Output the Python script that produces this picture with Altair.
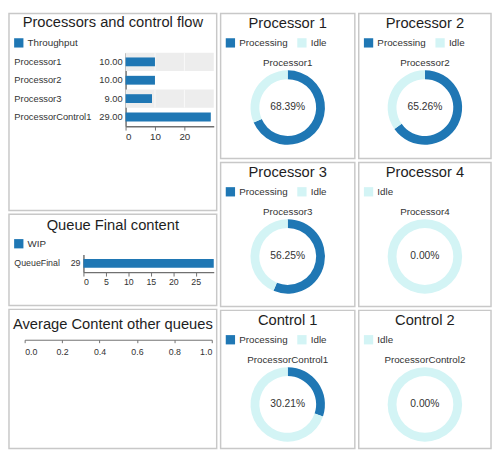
import altair as alt
import pandas as pd

# ---------------- data ----------------
throughput_names = ["Processor1", "Processor2", "Processor3", "ProcessorControl1"]
throughput_values = [10.0, 10.0, 9.0, 29.0]
throughput_series = "Throughput"

queue_names = ["QueueFinal"]
queue_values = [29]
queue_series = "WIP"

other_queue_names = []
other_queue_values = []

panel_titles = ["Processor 1", "Processor 2", "Processor 3", "Processor 4", "Control 1", "Control 2"]
panel_names = ["Processor1", "Processor2", "Processor3", "Processor4",
               "ProcessorControl1", "ProcessorControl2"]
processing_pct = [68.39, 65.26, 56.25, 0.00, 30.21, 0.00]
states = ["Processing", "Idle"]

# ---------------- style ----------------
FONT = "Liberation Sans"
BLUE = "#1f77b4"
IDLE = "#d3f4f5"
TEXT = "#333333"
AXIS = "#707070"
STRIPE = "#ededed"
BORDER = "#c8c8c8"
state_colors = [BLUE, IDLE]


def title(text, off):
    return alt.TitleParams(text=text, fontSize=15, font=FONT, fontWeight="normal",
                           color="#1e1e1e", anchor="middle", offset=off, baseline="top")


def legend(y):
    return alt.Legend(orient="none", legendX=5, legendY=y, title=None, direction="horizontal",
                      symbolType="square", symbolSize=90, symbolStrokeWidth=0,
                      labelFontSize=10, labelColor=TEXT, labelFont=FONT,
                      columnPadding=9, labelOffset=4)


# ---------- panel 1: throughput bars ----------
W_L = 212
H1 = 201
x0_1, x1_1 = 119, 209
y0_1, y1_1 = 40, 115
df1 = pd.DataFrame({"name": throughput_names, "value": throughput_values})
df1["series"] = throughput_series
stripe_rows = df1.iloc[::2]
grid_rows = pd.DataFrame([{"name": n, "tick": t} for n in stripe_rows["name"] for t in [10, 20]])

xs1 = alt.Scale(domain=[0, 30], range=[x0_1, x1_1], nice=False, zero=True)
ys1 = alt.Scale(domain=throughput_names, range=[y0_1, y1_1], paddingInner=0, paddingOuter=0)
xa1 = alt.Axis(title=None, orient="bottom", offset=-(H1 - y1_1), values=[0, 10, 20], grid=False,
               tickSize=4, tickColor=AXIS, domainColor=AXIS, domainWidth=1.5,
               labelFontSize=10, labelColor=TEXT, labelPadding=2)
ya1 = alt.Axis(title=None, orient="left", offset=-x0_1, ticks=False, tickSize=0, grid=False,
               domainColor=AXIS, domainWidth=1.5, labelAlign="left", labelPadding=x0_1 - 5,
               labelFontSize=9.5, labelColor=TEXT, labelLimit=200)

stripe1 = alt.Chart(stripe_rows).mark_bar(color=STRIPE).encode(
    x=alt.X(datum=30, type="quantitative", scale=xs1, axis=xa1),
    y=alt.Y("name:N", scale=ys1, axis=ya1),
)
grid1 = alt.Chart(grid_rows).mark_tick(color="white", thickness=1, size=18).encode(
    x=alt.X("tick:Q", scale=xs1, axis=xa1),
    y=alt.Y("name:N", scale=ys1, axis=ya1),
)
bars1 = alt.Chart(df1).mark_bar(size=9).encode(
    x=alt.X("value:Q", scale=xs1, axis=xa1),
    y=alt.Y("name:N", scale=ys1, axis=ya1),
    color=alt.Color("series:N", scale=alt.Scale(range=[BLUE]), legend=legend(25)),
)
vals1 = alt.Chart(df1).mark_text(align="right", dx=-3, fontSize=9.5, color=TEXT).encode(
    x=alt.X(datum=0, type="quantitative", scale=xs1, axis=xa1),
    y=alt.Y("name:N", scale=ys1, axis=ya1),
    text=alt.Text("value:Q", format=".2f"),
)
panel1 = alt.layer(stripe1, grid1, bars1, vals1).properties(
    width=W_L, height=H1, title=title("Processors and control flow", -17))

# ---------- panel 2: queue final ----------
H2 = 93
x0_2, x1_2 = 76, 209
y0_2, y1_2 = 41, 59
df2 = pd.DataFrame({"name": queue_names, "value": queue_values})
df2["series"] = queue_series
xs2 = alt.Scale(domain=[0, 29], range=[x0_2, x1_2], nice=False, zero=True)
ys2 = alt.Scale(domain=queue_names, range=[y0_2, y1_2], paddingInner=0, paddingOuter=0)
xa2 = alt.Axis(title=None, orient="bottom", offset=-(H2 - y1_2), values=[0, 5, 10, 15, 20, 25],
               grid=False, tickSize=4, tickColor=AXIS, domainColor=AXIS, domainWidth=1.5,
               labelFontSize=9, labelColor=TEXT, labelPadding=2)
ya2 = alt.Axis(title=None, orient="left", offset=-x0_2, ticks=False, tickSize=0, grid=False,
               domainColor=AXIS, domainWidth=1.5, labelAlign="left", labelPadding=x0_2 - 5,
               labelFontSize=9, labelColor=TEXT, labelLimit=200)
bars2 = alt.Chart(df2).mark_bar(size=9).encode(
    x=alt.X("value:Q", scale=xs2, axis=xa2),
    y=alt.Y("name:N", scale=ys2, axis=ya2),
    color=alt.Color("series:N", scale=alt.Scale(range=[BLUE]), legend=legend(25)),
)
vals2 = alt.Chart(df2).mark_text(align="right", dx=-3, fontSize=9, color=TEXT).encode(
    x=alt.X(datum=0, type="quantitative", scale=xs2, axis=xa2),
    y=alt.Y("name:N", scale=ys2, axis=ya2),
    text=alt.Text("value:Q", format="d"),
)
panel2 = alt.layer(bars2, vals2).properties(
    width=W_L, height=H2, title=title("Queue Final content", -19))

# ---------- panel 3: average content other queues (empty) ----------
H3 = 142
df3 = pd.DataFrame({"name": pd.Series(other_queue_names, dtype=str),
                    "value": pd.Series(other_queue_values, dtype=float)})
xs3 = alt.Scale(domain=[0, 1], range=[16, 207], nice=False)
xa3 = alt.Axis(title=None, orient="bottom", offset=-(H3 - 31), values=[0, 0.2, 0.4, 0.6, 0.8, 1.0],
               format=".1f", grid=False, tickSize=3, tickColor=AXIS, domainColor=AXIS,
               labelFontSize=9, labelColor=TEXT, labelPadding=5)
panel3 = alt.Chart(df3).mark_bar(color=BLUE).encode(
    x=alt.X("value:Q", scale=xs3, axis=xa3),
).properties(width=W_L, height=H3, title=title("Average Content other queues", -23))


# ---------- donut panels ----------
def donut(i, W, H):
    p = processing_pct[i]
    d = pd.DataFrame({"state": states, "value": [p, 100 - p], "order": [0, 1]})
    d = d[d["value"] > 0]
    dom = list(d["state"])
    rng = [state_colors[states.index(s)] for s in dom]
    arc = alt.Chart(d).mark_arc(outerRadius=38, innerRadius=29, yOffset=96 - H / 2).encode(
        theta=alt.Theta("value:Q", stack=True),
        color=alt.Color("state:N", scale=alt.Scale(domain=dom, range=rng), legend=legend(25)),
        order=alt.Order("order:Q"),
    )
    name = alt.Chart(pd.DataFrame({"name": [panel_names[i]]})).mark_text(
        fontSize=10, color=TEXT, baseline="middle").encode(text="name:N", y=alt.value(51))
    pct = alt.Chart(pd.DataFrame({"pct": [p]})).transform_calculate(
        label="format(datum.pct, '.2f') + '%'"
    ).mark_text(fontSize=10.5, color=TEXT, baseline="middle").encode(
        text="label:N", y=alt.value(96))
    return alt.layer(arc, name, pct).properties(width=W, height=H, title=title(panel_titles[i], -18))


W_M, W_R = 137, 135
R1, R2, R3 = 148, 147, 141

res = dict(x="independent", y="independent", color="independent", theta="independent")

left = alt.vconcat(panel1, panel2, panel3, spacing=2).resolve_scale(**res).resolve_legend(color="independent")
mid = alt.vconcat(donut(0, W_M, R1), donut(2, W_M, R2), donut(4, W_M, R3), spacing=2
                  ).resolve_scale(**res).resolve_legend(color="independent")
right = alt.vconcat(donut(1, W_R, R1), donut(3, W_R, R2), donut(5, W_R, R3), spacing=2
                    ).resolve_scale(**res).resolve_legend(color="independent")

chart = alt.hconcat(left, mid, right, spacing=2).resolve_scale(**res).resolve_legend(
    color="independent"
).properties(padding=0).configure(font=FONT).configure_view(
    stroke=BORDER, strokeWidth=1.5
)

chart.save("out.html", embed_options={"renderer": "svg", "actions": False})
